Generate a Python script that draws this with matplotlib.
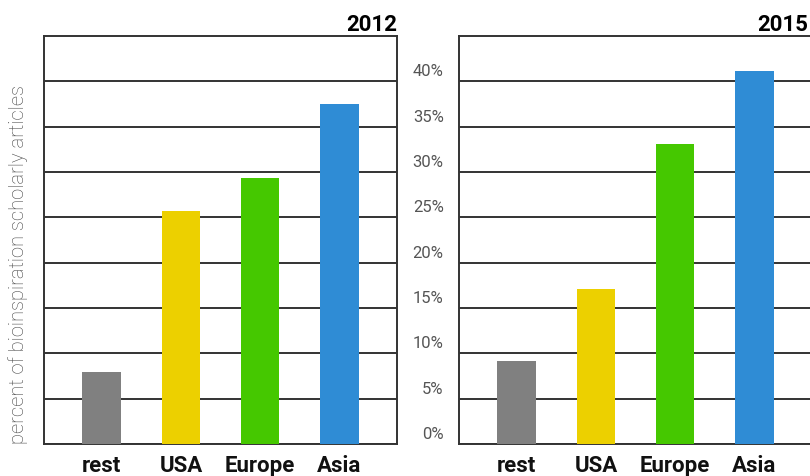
import matplotlib
matplotlib.use("Agg")
import matplotlib.pyplot as plt
from matplotlib.transforms import ScaledTranslation

# Data (percent of bioinspiration scholarly articles)
regions = ["rest", "USA", "Europe", "Asia"]
share_2012 = [7.9, 25.7, 29.3, 37.5]
share_2015 = [9.1, 17.1, 33.1, 41.1]
years = ["2012", "2015"]
tick_values = [0, 5, 10, 15, 20, 25, 30, 35, 40]
tick_labels = [f"{v}%" for v in tick_values]
bar_colors = ["#808080", "#ecd000", "#45c800", "#2f8cd5"]

plt.rcParams["font.family"] = ["Roboto", "DejaVu Sans"]

fig = plt.figure(figsize=(8.1, 4.77), dpi=100)
ax1 = fig.add_axes([44 / 810, 1 - 445 / 477, 353 / 810, 408 / 477])
ax2 = fig.add_axes([459 / 810, 1 - 445 / 477, 353 / 810, 408 / 477])

line_col = "#333333"
for ax, vals, year in zip([ax1, ax2], [share_2012, share_2015], years):
    x = range(len(regions))
    ax.bar(x, vals, width=0.49, color=bar_colors, zorder=3)
    ax.set_xlim(-0.73, 3.73)
    ax.set_ylim(0, 45)
    ax.set_yticks(tick_values)
    ax.grid(axis="y", color=line_col, linewidth=1.4, zorder=1)
    ax.set_axisbelow(True)
    for s in ax.spines.values():
        s.set_color(line_col)
        s.set_linewidth(1.4)
    ax.set_xticks(list(x))
    ax.set_xticklabels(regions, fontsize=16, fontweight="bold", color="#111111")
    ax.tick_params(axis="x", length=0, pad=7.5)
    ax.tick_params(axis="y", length=0)
    t = ax.set_title(year, loc="right", fontsize=16, fontweight="bold", pad=4)

# the right panel is cropped by the figure edge, keep its title inside
t.set_x((808 - 459) / 353)

ax1.set_yticklabels([])
ax2.set_yticklabels(tick_labels, fontsize=12, color="#555555")
ax2.tick_params(axis="y", pad=11)
for lab in ax2.get_yticklabels():
    lab.set_transform(lab.get_transform() + ScaledTranslation(0, 12 / 100, fig.dpi_scale_trans))

fig.text(18 / 810, 1 - 264 / 477, "percent of bioinspiration scholarly articles",
         rotation=90, ha="center", va="center", fontsize=14.5, color="#444444",
         fontweight="light")

fig.savefig("out.png", dpi=100)
